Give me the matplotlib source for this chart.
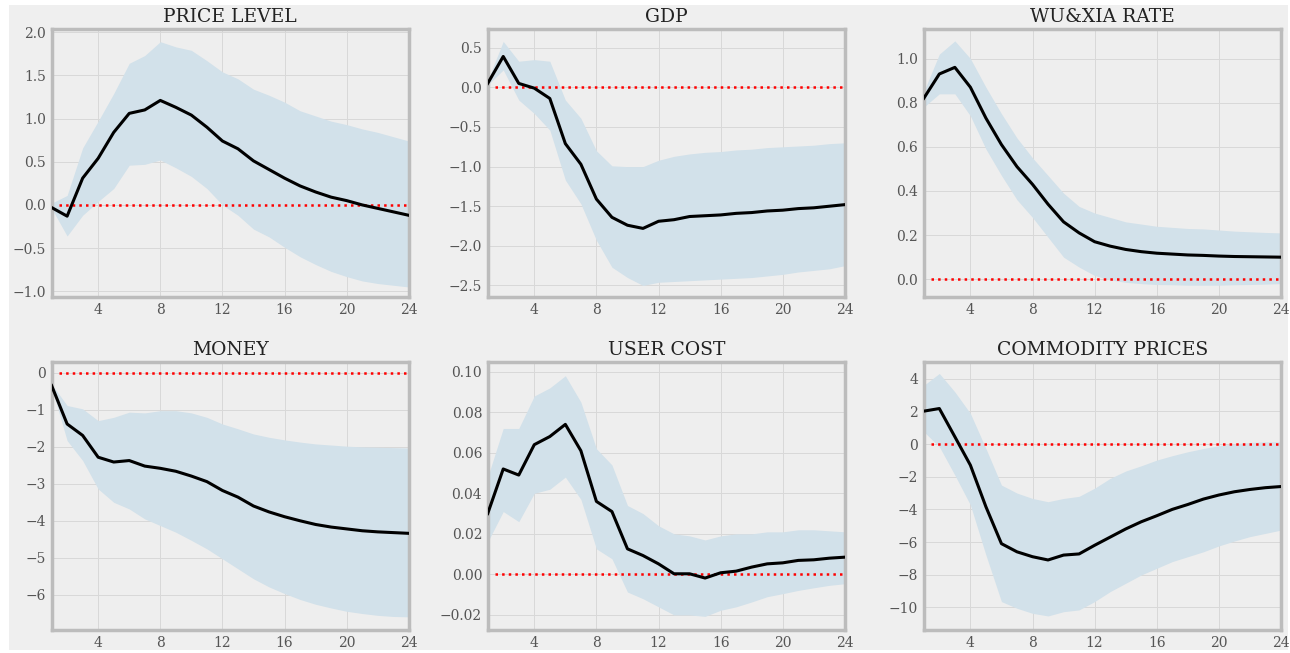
import numpy as np
import matplotlib
matplotlib.use('Agg')
import matplotlib.pyplot as plt
from matplotlib.patches import Rectangle

# horizons
horizon = np.arange(1, 25)

titles = ['PRICE LEVEL', 'GDP', 'WU&XIA RATE', 'MONEY', 'USER COST', 'COMMODITY PRICES']

# median responses
price_med = [-0.03, -0.13, 0.31, 0.54, 0.84, 1.06, 1.10, 1.21, 1.13, 1.04, 0.90, 0.74,
             0.65, 0.51, 0.41, 0.31, 0.22, 0.15, 0.09, 0.05, 0.00, -0.04, -0.08, -0.12]
price_lo = [-0.04, -0.36, -0.12, 0.04, 0.19, 0.46, 0.47, 0.52, 0.43, 0.33, 0.19, 0.00,
            -0.12, -0.28, -0.37, -0.49, -0.60, -0.69, -0.77, -0.83, -0.88, -0.91, -0.93, -0.95]
price_hi = [0.02, 0.11, 0.66, 0.97, 1.29, 1.64, 1.73, 1.89, 1.83, 1.79, 1.67, 1.54,
            1.46, 1.34, 1.27, 1.19, 1.09, 1.03, 0.97, 0.93, 0.88, 0.84, 0.79, 0.74]

gdp_med = [0.05, 0.39, 0.05, -0.01, -0.14, -0.71, -0.97, -1.41, -1.64, -1.74, -1.78, -1.69,
           -1.67, -1.63, -1.62, -1.61, -1.59, -1.58, -1.56, -1.55, -1.53, -1.52, -1.50, -1.48]
gdp_lo = [0.03, 0.22, -0.16, -0.33, -0.54, -1.17, -1.47, -1.93, -2.27, -2.40, -2.50, -2.46,
          -2.45, -2.44, -2.43, -2.42, -2.41, -2.40, -2.38, -2.36, -2.33, -2.31, -2.29, -2.25]
gdp_hi = [0.09, 0.58, 0.33, 0.35, 0.33, -0.16, -0.39, -0.80, -0.99, -1.00, -1.00, -0.92,
          -0.87, -0.84, -0.82, -0.81, -0.79, -0.78, -0.76, -0.75, -0.74, -0.73, -0.71, -0.70]

rate_med = [0.82, 0.93, 0.96, 0.87, 0.73, 0.61, 0.51, 0.43, 0.34, 0.26, 0.21, 0.17,
            0.15, 0.135, 0.125, 0.118, 0.114, 0.11, 0.108, 0.105, 0.103, 0.102, 0.101, 0.10]
rate_lo = [0.78, 0.84, 0.84, 0.74, 0.59, 0.47, 0.36, 0.28, 0.19, 0.10, 0.055, 0.017,
           -0.003, -0.014, -0.02, -0.024, -0.025, -0.027, -0.027, -0.027, -0.025, -0.024, -0.022, -0.02]
rate_hi = [0.85, 1.02, 1.08, 1.00, 0.87, 0.75, 0.64, 0.55, 0.47, 0.39, 0.33, 0.30,
           0.28, 0.26, 0.25, 0.24, 0.235, 0.23, 0.228, 0.223, 0.218, 0.215, 0.212, 0.21]

money_med = [-0.34, -1.38, -1.69, -2.28, -2.41, -2.37, -2.52, -2.58, -2.66, -2.79, -2.94, -3.18,
             -3.36, -3.60, -3.76, -3.89, -4.00, -4.10, -4.17, -4.22, -4.27, -4.30, -4.32, -4.34]
money_lo = [-0.39, -1.83, -2.37, -3.14, -3.50, -3.68, -3.95, -4.13, -4.31, -4.53, -4.76, -5.03,
            -5.30, -5.57, -5.79, -5.97, -6.13, -6.26, -6.36, -6.45, -6.51, -6.56, -6.59, -6.60]
money_hi = [-0.30, -0.88, -0.97, -1.29, -1.20, -1.06, -1.08, -1.02, -1.02, -1.08, -1.20, -1.38,
            -1.51, -1.65, -1.74, -1.81, -1.87, -1.92, -1.95, -1.98, -2.00, -2.01, -2.02, -2.03]

cost_med = [0.030, 0.052, 0.049, 0.064, 0.068, 0.074, 0.061, 0.036, 0.031, 0.0126, 0.0093, 0.0052,
            0.0003, 0.0003, -0.0018, 0.0008, 0.0016, 0.0036, 0.0052, 0.0057, 0.0069, 0.0072, 0.008, 0.0085]
cost_lo = [0.016, 0.031, 0.026, 0.040, 0.042, 0.048, 0.037, 0.0126, 0.0077, -0.0087, -0.012, -0.016,
           -0.020, -0.020, -0.0207, -0.0177, -0.016, -0.0136, -0.011, -0.0095, -0.0079, -0.0066, -0.0054, -0.0046]
cost_hi = [0.048, 0.072, 0.072, 0.088, 0.092, 0.098, 0.085, 0.062, 0.054, 0.034, 0.030, 0.024,
           0.020, 0.019, 0.017, 0.019, 0.020, 0.020, 0.021, 0.021, 0.022, 0.022, 0.0215, 0.021]

comm_med = [2.02, 2.18, 0.45, -1.29, -3.84, -6.10, -6.60, -6.90, -7.10, -6.80, -6.73, -6.20,
            -5.70, -5.20, -4.76, -4.39, -4.00, -3.70, -3.37, -3.12, -2.92, -2.78, -2.67, -2.60]
comm_lo = [0.76, -0.16, -1.90, -3.73, -6.80, -9.65, -10.06, -10.37, -10.53, -10.27, -10.16, -9.65,
           -9.04, -8.53, -8.02, -7.61, -7.20, -6.90, -6.60, -6.24, -5.94, -5.67, -5.47, -5.27]
comm_hi = [3.60, 4.33, 3.20, 1.88, -0.27, -2.51, -3.00, -3.33, -3.53, -3.33, -3.20, -2.70,
           -2.10, -1.65, -1.33, -0.98, -0.71, -0.47, -0.27, -0.10, 0.02, 0.10, 0.14, 0.14]

medians = [price_med, gdp_med, rate_med, money_med, cost_med, comm_med]
lowers = [price_lo, gdp_lo, rate_lo, money_lo, cost_lo, comm_lo]
uppers = [price_hi, gdp_hi, rate_hi, money_hi, cost_hi, comm_hi]

ylims = [(-1.07, 2.04), (-2.65, 0.74), (-0.082, 1.135), (-6.96, 0.31), (-0.0275, 0.105), (-11.4, 5.06)]
yticks = [np.arange(-1.0, 2.01, 0.5), np.arange(-2.5, 0.51, 0.5), np.arange(0, 1.01, 0.2),
          np.arange(-6, 0.5, 1), np.arange(-0.02, 0.101, 0.02), np.arange(-10, 4.5, 2)]

plt.rcParams['font.family'] = 'DejaVu Serif'

fig, axes = plt.subplots(2, 3, figsize=(12.9, 6.53), dpi=100)
fig.patch.set_facecolor('white')
fig.patches.append(Rectangle((9 / 1290, 3 / 653), 1279 / 1290, 645 / 653, transform=fig.transFigure,
                             facecolor='#efefef', edgecolor='none', zorder=-10))
plt.subplots_adjust(left=0.040, right=0.993, top=0.956, bottom=0.035, wspace=0.221, hspace=0.239)

for i, ax in enumerate(axes.flat):
    ax.set_facecolor('#eeeeee')
    ax.fill_between(horizon, lowers[i], uppers[i], color='#d2e1ea', linewidth=0, zorder=1)
    ax.plot(horizon, medians[i], color='black', linewidth=2.2, zorder=3)
    ax.axhline(0, xmin=0.02, xmax=1, color='red', linestyle=':', linewidth=1.8, zorder=2)
    ax.set_title(titles[i], fontsize=13.5, color='#222222', pad=5)
    ax.set_xlim(1, 24)
    ax.set_xticks([4, 8, 12, 16, 20, 24])
    ax.set_ylim(*ylims[i])
    ax.set_yticks(yticks[i])
    ax.grid(True, color='#d8d8d8', linewidth=0.7)
    ax.set_axisbelow(True)
    ax.tick_params(length=0, labelsize=10, colors='#555555', pad=4)
    for sp in ax.spines.values():
        sp.set_color('#bcbcbc')
        sp.set_linewidth(2.5)

plt.savefig('out.png', dpi=100, facecolor=fig.get_facecolor())
